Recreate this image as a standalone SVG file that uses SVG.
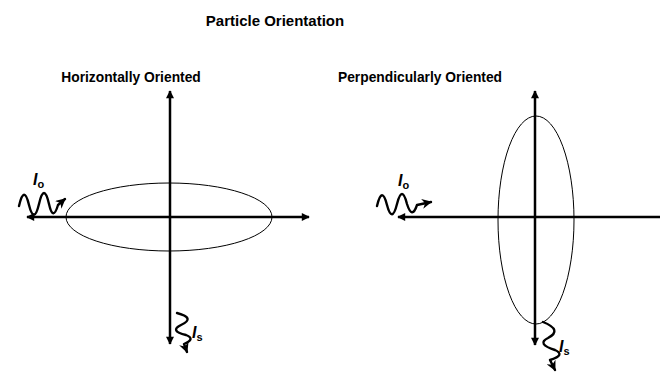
<svg xmlns="http://www.w3.org/2000/svg" width="660" height="372" viewBox="0 0 660 372">
<defs>
<marker id="ah" viewBox="0 0 10 10" refX="9" refY="5" markerWidth="9" markerHeight="8" markerUnits="userSpaceOnUse" orient="auto-start-reverse">
<path d="M0,0 L10,5 L0,10 z" fill="#000"/>
</marker>
<marker id="sh" viewBox="0 0 10 10" refX="9" refY="5" markerWidth="10" markerHeight="10" markerUnits="userSpaceOnUse" orient="auto">
<path d="M0,0 L10,5 L0,10 L3,5 z" fill="#000"/>
</marker>
</defs>
<style>
.t{font-family:"Liberation Sans",Arial,sans-serif;font-weight:bold;fill:#000}
.axis{stroke:#000;stroke-width:2.5;fill:none}
.ell{stroke:#000;stroke-width:1;fill:none}
.wave{stroke:#000;stroke-width:2.4;fill:none;stroke-linecap:round;stroke-linejoin:round}
.lab{font-family:"Liberation Sans",Arial,sans-serif;font-weight:bold;font-style:italic;font-size:16px}
.sub{font-family:"Liberation Sans",Arial,sans-serif;font-weight:bold;font-size:11px}
</style>
<rect width="660" height="372" fill="#fff"/>
<text class="t" x="275" y="26" font-size="15" text-anchor="middle">Particle Orientation</text>

<g id="horizontal">
<text class="t" x="131" y="82" font-size="13.8" text-anchor="middle">Horizontally Oriented</text>
<ellipse class="ell" cx="169" cy="217" rx="103" ry="34"/>
<line class="axis" x1="27" y1="217" x2="309" y2="217" marker-start="url(#ah)" marker-end="url(#ah)"/>
<line class="axis" x1="170" y1="91" x2="170" y2="344" marker-start="url(#ah)" marker-end="url(#ah)"/>
<path class="wave" d="M19,206 Q24,184 29,205 Q34,225 39,204 Q44,182 49,204 Q53,222 58,205 L65,199" marker-end="url(#sh)"/>
<text x="33" y="185"><tspan class="lab">I</tspan><tspan class="sub" dy="3">o</tspan></text>
<path class="wave" d="M177,313 Q196,318 181,325 Q169,331 186,335 Q196,339 184,344 L187,352" marker-end="url(#sh)"/>
<text x="192" y="338"><tspan class="lab">I</tspan><tspan class="sub" dy="3">s</tspan></text>
</g>

<g id="perpendicular">
<text class="t" x="420" y="82" font-size="13.8" text-anchor="middle">Perpendicularly Oriented</text>
<ellipse class="ell" cx="536" cy="220" rx="38" ry="104"/>
<line class="axis" x1="398" y1="217" x2="665" y2="217" marker-start="url(#ah)"/>
<line class="axis" x1="535" y1="91" x2="535" y2="345" marker-start="url(#ah)" marker-end="url(#ah)"/>
<path class="wave" d="M377,206 Q382,185 387,205 Q392,224 397,204 Q402,184 407,204 Q412,220 417,205 L431,202" marker-end="url(#sh)"/>
<text x="398" y="186"><tspan class="lab">I</tspan><tspan class="sub" dy="3">o</tspan></text>
<path class="wave" d="M543,322 Q563,330 548,338 Q536,344 555,350 Q566,355 550,360 L555,370" marker-end="url(#sh)"/>
<text x="559" y="352"><tspan class="lab">I</tspan><tspan class="sub" dy="3">s</tspan></text>
</g>
</svg>
